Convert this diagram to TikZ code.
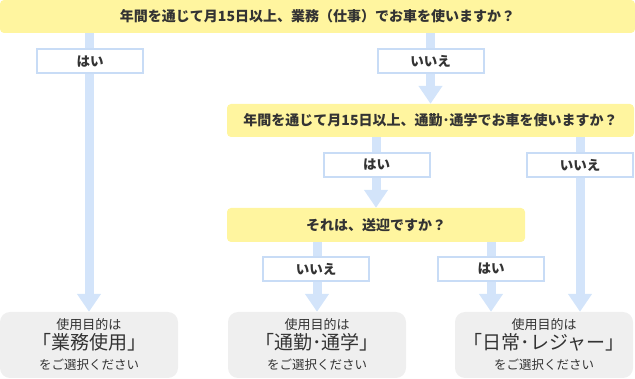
\documentclass[tikz,border=0pt]{standalone}
\usepackage{fontspec}
\setmainfont{Noto Sans CJK JP}
\usetikzlibrary{arrows.meta}
\definecolor{qyellow}{HTML}{FFF59F}
\definecolor{flowblue}{HTML}{D3E4FA}
\definecolor{ansblue}{HTML}{C8DCF6}
\definecolor{resgray}{HTML}{EFEFEF}
\definecolor{txtgray}{HTML}{333333}
\pgfdeclarelayer{background}
\pgfsetlayers{background,main}
\newcommand{\purpose}[1]{{\fontsize{13}{20}\selectfont 使用目的は}\\{\fontsize{19}{20}\selectfont 「#1」}\\{\fontsize{12.5}{20}\selectfont をご選択ください}}

\begin{document}
\begin{tikzpicture}[x=1pt, y=-1pt,
  question/.style={fill=qyellow, rounded corners=4pt, inner sep=0pt, text=txtgray,
    font=\bfseries\fontsize{14}{16}\selectfont},
  answer/.style={draw=ansblue, line width=2pt, fill=white, minimum width=106pt,
    minimum height=24pt, inner sep=0pt, text=txtgray, font=\bfseries\fontsize{13.5}{16}\selectfont},
  result/.style={fill=resgray, rounded corners=10pt, minimum width=178pt, minimum height=66pt,
    inner sep=0pt, align=center, text=txtgray, font=\fontsize{13}{20}\selectfont},
  flow/.style={draw=flowblue, line width=9pt, -{Triangle[length=18pt, width=23pt]}}]
\useasboundingbox (0,0) rectangle (635,379);
% questions
\node[question, minimum width=635pt, minimum height=33pt] (q1) at (317.5,16.5) {年間を通じて月15日以上、業務（仕事）でお車を使いますか？};
\node[question, minimum width=407pt, minimum height=33pt] (q2) at (430.5,120.5) {年間を通じて月15日以上、通勤･通学でお車を使いますか？};
\node[question, minimum width=298pt, minimum height=34pt] (q3) at (376,225) {それは、送迎ですか？};
% results
\node[result] (r1) at (89,345) {\purpose{業務使用}};
\node[result] (r2) at (317,345) {\purpose{通勤･通学}};
\node[result] (r3) at (544,345) {\purpose{日常･レジャー}};
% answers
\node[answer] (a1) at (90,61.5) {はい};
\node[answer] (a2) at (430.5,61.5) {いいえ};
\node[answer] (a3) at (376.5,165) {はい};
\node[answer] (a4) at (580,165) {いいえ};
\node[answer] (a5) at (316,269) {いいえ};
\node[answer] (a6) at (491,269) {はい};
% flow lines
\begin{pgfonlayer}{background}
\draw[flow] (q1.south -| r1) -- (r1.north);
\draw[flow] (q1.south -| a2) -- (a2 |- q2.north);
\draw[flow] (q2.south -| q3) -- (q3.north);
\draw[flow] (q2.south -| a4) -- (a4 |- r3.north);
\draw[flow] (q3.south -| r2) -- (r2.north);
\draw[flow] (q3.south -| a6) -- (a6 |- r3.north);
\end{pgfonlayer}
\end{tikzpicture}
\end{document}
